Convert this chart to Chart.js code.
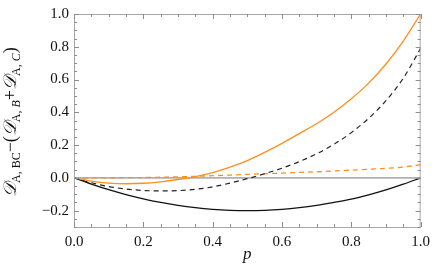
<!DOCTYPE html>
<html>
<head>
<meta charset="utf-8">
<script src="https://cdn.jsdelivr.net/npm/chart.js@4.4.1/dist/chart.umd.min.js"></script>
<style>
  html, body { margin: 0; padding: 0; background: #fff; }
  #wrap { width: 436px; height: 280px; }
</style>
</head>
<body>
<div id="wrap"><canvas id="chart" width="436" height="280"></canvas></div>
<script>
// values, p = 0 .. 1 in steps of 0.05
const pValues = [0, 0.05, 0.1, 0.15, 0.2, 0.25, 0.3, 0.35, 0.4, 0.45, 0.5,
                 0.55, 0.6, 0.65, 0.7, 0.75, 0.8, 0.85, 0.9, 0.95, 1];

const orangeSolid = [0, -0.020, -0.032, -0.036, -0.033, -0.024, -0.010, 0.008, 0.032, 0.065, 0.105,
                     0.155, 0.210, 0.270, 0.330, 0.400, 0.482, 0.578, 0.695, 0.835, 1.000];
const blackDashed = [0, -0.030, -0.053, -0.068, -0.077, -0.080, -0.078, -0.070, -0.055, -0.032, -0.005,
                     0.025, 0.059, 0.099, 0.147, 0.205, 0.276, 0.363, 0.471, 0.608, 0.790];
const orangeDashed = [0, 0.000, 0.0005, 0.001, 0.002, 0.004, 0.006, 0.009, 0.013, 0.017, 0.021,
                      0.025, 0.029, 0.033, 0.037, 0.042, 0.047, 0.052, 0.058, 0.066, 0.080];
const blackSolid = [0, -0.038, -0.072, -0.102, -0.128, -0.150, -0.168, -0.182, -0.192, -0.198, -0.200,
                    -0.198, -0.192, -0.182, -0.168, -0.150, -0.130, -0.104, -0.074, -0.039, 0];
const zeroLine = [0, 0];
const zeroLineP = [0, 1];

const xTickLabels = ['0.0', '0.2', '0.4', '0.6', '0.8', '1.0'];
const yTickLabels = ['\u22120.2', '0.0', '0.2', '0.4', '0.6', '0.8', '1.0'];

const ORANGE = '#ff8f1f';
const FRAME = '#a8a8a8';

function pts(ys, xs) {
    return ys.map((y, i) => ({ x: (xs || pValues)[i], y: y }));
}

function isMajor(v) {
    const r = v / 0.2;
    return Math.abs(r - Math.round(r)) < 1e-6;
}

function majorLabel(v, labels) {
    if (!isMajor(v)) return '';
    const k = Math.round(v / 0.2) * 0.2;
    const s = Math.abs(k) < 1e-9 ? '0.0' : (k < 0 ? '\u2212' + (-k).toFixed(1) : k.toFixed(1));
    return labels.includes(s) ? s : '';
}

// frame box + inward ticks on all four sides (Mathematica style)
const frameTicks = {
    id: 'frameTicks',
    afterDraw(chart) {
        const { ctx, chartArea: a, scales } = chart;
        ctx.save();
        ctx.strokeStyle = FRAME;
        ctx.lineWidth = 1;
        ctx.strokeRect(a.left + 0.5, a.top + 0.5, a.right - a.left - 1, a.bottom - a.top);
        ctx.strokeStyle = '#8c8c8c';
        scales.x.ticks.forEach(t => {
            const x = Math.round(scales.x.getPixelForValue(t.value)) + 0.5;
            const len = isMajor(t.value) ? 5 : 3;
            ctx.beginPath();
            ctx.moveTo(x, a.bottom); ctx.lineTo(x, a.bottom - len);
            ctx.moveTo(x, a.top); ctx.lineTo(x, a.top + len);
            ctx.stroke();
        });
        scales.y.ticks.forEach(t => {
            const y = Math.round(scales.y.getPixelForValue(t.value)) + 0.5;
            const len = isMajor(t.value) ? 5 : 3;
            ctx.beginPath();
            ctx.moveTo(a.left, y); ctx.lineTo(a.left + len, y);
            ctx.moveTo(a.right, y); ctx.lineTo(a.right - len, y);
            ctx.stroke();
        });
        ctx.restore();
    }
};

// rotated y title with subscripts
const yTitle = {
    id: 'yTitle',
    afterDraw(chart) {
        const ctx = chart.ctx;
        const big = 'italic 18px "Liberation Serif", "DejaVu Serif", serif';
        const mid = '18px "Liberation Serif", "DejaVu Serif", serif';
        const sub = 'italic 12px "Liberation Serif", "DejaVu Serif", serif';
        const subUp = '12px "Liberation Serif", "DejaVu Serif", serif';
        const parts = [
            ['\u{1D49F}', big, 0], ['A', subUp, 4], [', BC', subUp, 4],
            ['\u2212(', mid, 0],
            ['\u{1D49F}', big, 0], ['A', subUp, 4], [', ', subUp, 4], ['B', sub, 4],
            ['+', mid, 0],
            ['\u{1D49F}', big, 0], ['A', subUp, 4], [', ', subUp, 4], ['C', sub, 4],
            [')', mid, 0]
        ];
        ctx.save();
        ctx.translate(16, 197);
        ctx.rotate(-Math.PI / 2);
        ctx.fillStyle = '#111';
        ctx.textBaseline = 'alphabetic';
        let x = 0;
        parts.forEach(([txt, font, dy]) => {
            ctx.font = font;
            ctx.fillText(txt, x, dy);
            x += ctx.measureText(txt).width;
        });
        ctx.restore();
    }
};

new Chart(document.getElementById('chart'), {
    type: 'line',
    data: {
        datasets: [
            { data: pts(orangeSolid), borderColor: ORANGE, borderWidth: 1.3 },
            { data: pts(blackDashed), borderColor: '#222', borderWidth: 1.2, borderDash: [5, 4] },
            { data: pts(orangeDashed), borderColor: ORANGE, borderWidth: 1.3, borderDash: [5, 4] },
            { data: pts(blackSolid), borderColor: '#111', borderWidth: 1.3 },
            { data: pts(zeroLine, zeroLineP), borderColor: '#b0b0b0', borderWidth: 1.6, order: 10 }
        ]
    },
    options: {
        responsive: false,
        animation: false,
        events: [],
        layout: { padding: { top: 11, right: 14, left: 0, bottom: 0 } },
        elements: {
            point: { radius: 0 },
            line: { cubicInterpolationMode: 'monotone', fill: false }
        },
        plugins: { legend: { display: false }, tooltip: { enabled: false } },
        scales: {
            x: {
                type: 'linear', min: 0, max: 1,
                afterFit(s) { s.height = 53; },
                border: { display: false },
                grid: { display: false, drawTicks: false },
                ticks: {
                    stepSize: 0.05, autoSkip: false, maxRotation: 0, padding: 6,
                    color: '#111',
                    font: { family: '"Liberation Serif", serif', size: 15 },
                    callback: v => majorLabel(v, xTickLabels)
                },
                title: {
                    display: true, text: 'p', color: '#111', padding: { top: 0, bottom: 15 },
                    font: { family: '"Liberation Serif", serif', size: 17, style: 'italic' }
                }
            },
            y: {
                type: 'linear', min: -0.3, max: 1.0,
                afterFit(s) { s.width = 74; },
                border: { display: false },
                grid: { display: false, drawTicks: false },
                ticks: {
                    stepSize: 0.05, autoSkip: false, padding: 5,
                    color: '#111',
                    font: { family: '"Liberation Serif", serif', size: 15 },
                    callback: v => majorLabel(v, yTickLabels)
                }
            }
        }
    },
    plugins: [frameTicks, yTitle]
});
</script>
</body>
</html>
